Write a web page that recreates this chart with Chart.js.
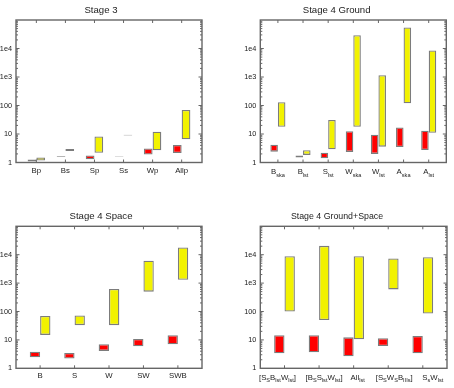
<!DOCTYPE html>
<html>
<head>
<meta charset="utf-8">
<script src="https://cdn.jsdelivr.net/npm/chart.js@4/dist/chart.umd.min.js"></script>
<style>
  html, body { margin: 0; padding: 0; background: #fff; }
  #wrap { position: relative; width: 454px; height: 388px; }
  #wrap canvas { position: absolute; }
</style>
</head>
<body>
<div id="wrap">
  <canvas id="c1" width="227" height="194" style="left:0;top:0"></canvas>
  <canvas id="c2" width="227" height="194" style="left:227px;top:0"></canvas>
  <canvas id="c3" width="227" height="194" style="left:0;top:194px"></canvas>
  <canvas id="c4" width="227" height="194" style="left:227px;top:194px"></canvas>
</div>
<script>
// y axis (log) ticks
const yTickValues = [1, 10, 100, 1000, 10000];
const yTickLabels = ["1", "10", "100", "1e3", "1e4"];

// Stage 3
const s3Labels = ["Bp", "Bs", "Sp", "Ss", "Wp", "Allp"];
const s3Red = [[1.08, 1.27], [1.55, 1.65], [1.3, 1.75], [1.56, 1.64], [1.9, 3.1], [2.15, 4.1]];
const s3Yellow = [[1.17, 1.5], [2.55, 3.0], [2.2, 8.2], [8.8, 9.5], [2.7, 12], [6.5, 70]];

// Stage 4 Ground  (_{..} = subscript)
const s4gLabels = ["B_{ska}", "B_{lst}", "S_{lst}", "W_{ska}", "W_{lst}", "A_{ska}", "A_{lst}"];
const s4gRed = [[2.4, 4.2], [1.5, 1.75], [1.4, 2.2], [2.35, 12.5], [2.0, 9.5], [3.5, 17], [2.75, 13]];
const s4gYellow = [[18, 130], [1.85, 2.7], [2.9, 31], [18, 29000], [3.6, 1150], [120, 55000], [11, 8500]];

// Stage 4 Space
const s4sLabels = ["B", "S", "W", "SW", "SWB"];
const s4sRed = [[2.45, 3.85], [2.2, 3.45], [4.1, 7.0], [6.0, 10.8], [7.0, 14.5]];
const s4sYellow = [[15, 70], [33, 73], [33, 620], [500, 6100], [1300, 18000]];

// Stage 4 Ground+Space
const s4gsLabels = ["[S_{S}B_{lst}W_{lst}]", "[B_{S}S_{lst}W_{lst}]", "All_{lst}", "[S_{S}W_{S}B_{IIIs}]", "S_{s}W_{lst}"];
const s4gsRed = [[3.4, 14.5], [3.65, 14.5], [2.65, 12.3], [6.1, 11.4], [3.4, 13.7]];
const s4gsYellow = [[100, 8800], [50, 20500], [10.5, 8800], [600, 7400], [85, 8200]];

const FONT = "'Liberation Sans', Arial, sans-serif";
Chart.defaults.font.family = FONT;

// split "B_{ska}" into [{t:"B"},{t:"ska",sub:true}]
function parseLabel(str) {
  const parts = [];
  const re = /_\{([^}]*)\}|([^_]+)/g;
  let m;
  while ((m = re.exec(str)) !== null) {
    if (m[1] !== undefined) parts.push({ t: m[1], sub: true });
    else parts.push({ t: m[2], sub: false });
  }
  return parts;
}

// axes box, inward ticks and x labels (with subscripts)
const boxPlugin = {
  id: "box",
  afterDatasetsDraw(chart, args, opts) {
    const { ctx, chartArea: a } = chart;
    const xs = chart.scales.x, ys = chart.scales.y;
    ctx.save();
    ctx.strokeStyle = "#666";
    ctx.lineWidth = 1;
    ctx.beginPath();
    // minor + major ticks on left/right
    for (let k = 0; k < 5; k++) {
      for (let d = 1; d <= 9; d++) {
        const v = d * Math.pow(10, k);
        const py = ys.getPixelForValue(v);
        if (py <= a.top + 1 || py >= a.bottom - 1) continue;
        const len = d === 1 ? 3.5 : 2;
        ctx.moveTo(a.left, py); ctx.lineTo(a.left + len, py);
        ctx.moveTo(a.right, py); ctx.lineTo(a.right - len, py);
      }
    }
    // category ticks top/bottom
    opts.labels.forEach((_, i) => {
      const px = xs.getPixelForValue(i + 1);
      ctx.moveTo(px, a.bottom); ctx.lineTo(px, a.bottom - 3);
      ctx.moveTo(px, a.top); ctx.lineTo(px, a.top + 3);
    });
    ctx.stroke();
    ctx.lineWidth = 1.4;
    ctx.strokeRect(a.left, a.top, a.right - a.left, a.bottom - a.top);

    // x labels
    ctx.fillStyle = "#222";
    ctx.textBaseline = "alphabetic";
    ctx.textAlign = "left";
    const mainFont = "7.8px " + FONT, subFont = "5.6px " + FONT;
    opts.labels.forEach((lab, i) => {
      const parts = parseLabel(lab);
      const hasSub = parts.some(p => p.sub);
      let w = 0;
      parts.forEach(p => { ctx.font = p.sub ? subFont : mainFont; p.w = ctx.measureText(p.t).width; w += p.w; });
      const nudge = opts.nudge ? opts.nudge[i] : 0;
      let x = xs.getPixelForValue(i + 1) - w / 2 + nudge;
      const base = a.bottom + (hasSub ? 11.5 : 10);
      parts.forEach(p => {
        ctx.font = p.sub ? subFont : mainFont;
        ctx.fillText(p.t, x, p.sub ? base + 2.5 : base);
        x += p.w;
      });
    });
    ctx.restore();
  }
};

function makePanel(id, title, labels, red, yellow, layout) {
  const { cell, box, titleY, titleSize, nudge } = layout;
  const n = labels.length;
  const barStyle = {
    borderColor: "#7c7c7c",
    borderWidth: 1.3,
    borderSkipped: false,
    categoryPercentage: 0.6,
    barPercentage: 1
  };
  new Chart(document.getElementById(id), {
    type: "bar",
    data: {
      datasets: [
        Object.assign({ data: red.map((r, i) => ({ x: i + 1, y: r })), backgroundColor: "#ff0000" }, barStyle),
        Object.assign({ data: yellow.map((r, i) => ({ x: i + 1, y: r })), backgroundColor: "#f2f200" }, barStyle)
      ]
    },
    options: {
      responsive: false,
      animation: false,
      layout: { padding: { left: 0, top: 0, bottom: 0, right: cell[0] + 227 - box[2] } },
      plugins: {
        legend: { display: false },
        tooltip: { enabled: false },
        title: {
          display: true,
          text: title,
          color: "#222",
          font: { size: titleSize, weight: "normal", lineHeight: 1.2 },
          padding: { top: titleY - cell[1] - titleSize * 0.6, bottom: box[1] - titleY - titleSize * 0.6 }
        },
        box: { labels: labels, nudge: nudge }
      },
      scales: {
        x: {
          type: "linear",
          min: 0.3,
          max: n + 0.7,
          offset: false,
          grid: { display: false, drawTicks: false },
          border: { display: false },
          ticks: { display: false },
          afterBuildTicks: s => { s.ticks = labels.map((_, i) => ({ value: i + 1 })); },
          afterFit: s => { s.height = cell[1] + 194 - box[3]; }
        },
        y: {
          type: "logarithmic",
          min: 1,
          max: 100000,
          grid: { display: false, drawTicks: false },
          border: { display: false },
          ticks: {
            color: "#222",
            font: { size: 7.3 },
            padding: 4,
            autoSkip: false,
            callback: v => {
              const k = yTickValues.indexOf(v);
              return k >= 0 ? yTickLabels[k] : null;
            }
          },
          afterBuildTicks: s => { s.ticks = yTickValues.map(v => ({ value: v })); },
          afterFit: s => { s.width = box[0] - cell[0]; }
        }
      }
    },
    plugins: [boxPlugin]
  });
}

makePanel("c1", "Stage 3", s3Labels, s3Red, s3Yellow,
  { cell: [0, 0], box: [16, 20, 202, 162.5], titleY: 10.5, titleSize: 9.6 });
makePanel("c2", "Stage 4 Ground", s4gLabels, s4gRed, s4gYellow,
  { cell: [227, 0], box: [260.3, 20, 446.3, 162.5], titleY: 10.5, titleSize: 9.6 });
makePanel("c3", "Stage 4 Space", s4sLabels, s4sRed, s4sYellow,
  { cell: [0, 194], box: [16, 226.3, 202, 368.3], titleY: 216.3, titleSize: 9.6 });
makePanel("c4", "Stage 4 Ground+Space", s4gsLabels, s4gsRed, s4gsYellow,
  { cell: [227, 194], box: [260.3, 226.3, 447, 368.3], titleY: 216.3, titleSize: 8.8, nudge: [-7, 5, 4, 6, 10] });
</script>
</body>
</html>
